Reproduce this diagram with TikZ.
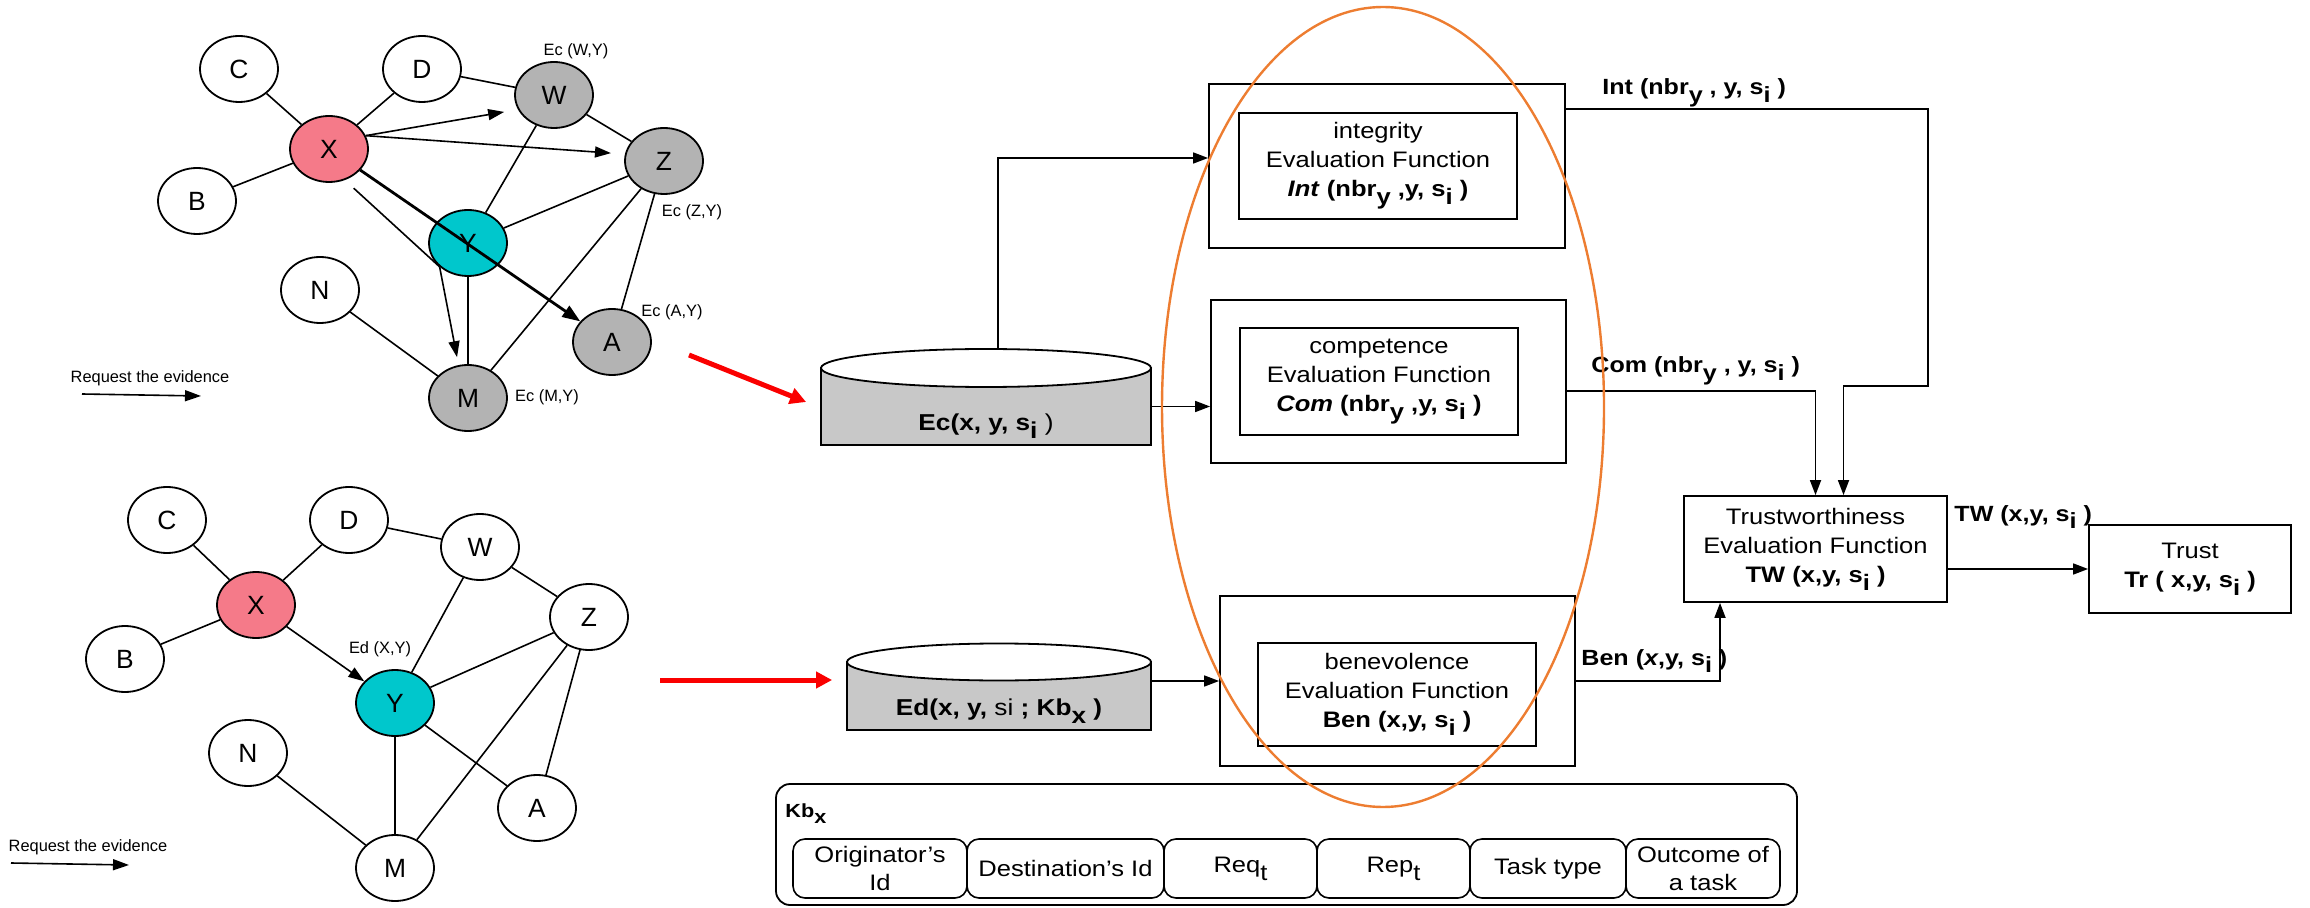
\documentclass[tikz,border=0pt]{standalone}
\usepackage{fontspec}
\setmainfont{Liberation Sans}[FakeStretch=1.14]
\newfontfamily\lblsans{Liberation Sans}
\usetikzlibrary{arrows.meta,calc,shapes.geometric}

\definecolor{xpink}{RGB}{245,122,137}
\definecolor{ycyan}{RGB}{0,199,204}
\definecolor{ngray}{RGB}{179,179,179}
\definecolor{dbgray}{RGB}{200,200,200}
\definecolor{ringorange}{RGB}{237,125,49}
\definecolor{hintred}{RGB}{250,0,0}

% lowered index, same size as the text around it
\newcommand{\dn}[1]{\raisebox{-0.35em}{#1}}

\begin{document}
\begin{tikzpicture}[x=0.5pt,y=-0.5pt,
  peer/.style={ellipse, draw, line width=0.9pt, fill=white, minimum width=39pt,
    minimum height=33pt, inner sep=0pt, font=\lblsans\fontsize{13.2}{15}\selectfont},
  link/.style={line width=0.8pt},
  req/.style={line width=0.8pt, -{Triangle[length=8pt,width=5.5pt]}},
  evtag/.style={font=\lblsans\fontsize{8.2}{9.5}\selectfont, inner sep=0pt},
  box/.style={draw, line width=0.9pt, rectangle, inner sep=0pt},
  evtext/.style={font=\fontsize{11.2}{14.5}\selectfont, align=center},
  flow/.style={line width=0.8pt, -{Triangle[length=7.5pt,width=5.5pt]}},
  outlbl/.style={font=\fontsize{11}{13}\selectfont\bfseries, inner sep=0pt, anchor=base west},
  bigred/.style={draw=hintred, line width=2.5pt, -{Triangle[length=8pt,width=8pt]}},
  cell/.style={draw, rounded corners=6pt, line width=0.8pt, minimum height=29.5pt,
    inner sep=0pt, align=center, font=\fontsize{11.2}{14}\selectfont},
]
\useasboundingbox (0,0) rectangle (2310,908);

% ---------- upper network: collecting evidence from the neighbours ----------
\node[peer] (tC) at (239,69) {C};
\node[peer] (tD) at (422,69) {D};
\node[peer, fill=ngray] (tW) at (554,95) {W};
\node[peer, fill=xpink] (tX) at (329,149) {X};
\node[peer, fill=ngray] (tZ) at (664,161) {Z};
\node[peer] (tB) at (197,201) {B};
\node[peer, fill=ycyan] (tY) at (468,243) {Y};
\node[peer] (tN) at (320,290) {N};
\node[peer, fill=ngray] (tA) at (612,342) {A};
\node[peer, fill=ngray] (tM) at (468,398) {M};

\foreach \a/\b in {tC/tX, tD/tX, tB/tX, tD/tW, tW/tZ, tW/tY, tZ/tY, tZ/tM, tZ/tA, tY/tM, tN/tM}
  \draw[link] (\a) -- (\b);

\draw[req, shorten >=7pt] (tX.20) -- (tW.202);
\draw[req, shorten >=7pt] (tX.20) -- (tZ.170);
\draw[line width=1.4pt, -{Triangle[length=9pt,width=6.5pt]}] (tX.-34) -- (tA.147);
\draw[link, shorten <=6pt] (tX.-63) -- (tY.220);
\draw[req, shorten >=4pt] (tY.220) -- (tM.106);

\node[evtag] (lWY) at (576,51) {Ec (W,Y)};
\node[evtag] (lZY) at (692,212) {Ec (Z,Y)};
\node[evtag] (lAY) at (672,312) {Ec (A,Y)};
\node[evtag] (lMY) at (547,397) {Ec (M,Y)};

\node[evtag] (rq1) at (150,378) {Request the evidence};
\coordinate (rq1a) at (82,394);
\coordinate (rq1b) at (201,396);
\draw[req] (rq1a) -- (rq1b);

% ---------- lower network: direct evidence between X and Y ----------
\node[peer] (bC) at (167,520) {C};
\node[peer] (bD) at (349,520) {D};
\node[peer] (bW) at (480,547) {W};
\node[peer, fill=xpink] (bX) at (256,605) {X};
\node[peer] (bZ) at (589,617) {Z};
\node[peer] (bB) at (125,659) {B};
\node[peer, fill=ycyan] (bY) at (395,703) {Y};
\node[peer] (bN) at (248,753) {N};
\node[peer] (bA) at (537,808) {A};
\node[peer] (bM) at (395,868) {M};

\foreach \a/\b in {bC/bX, bD/bX, bB/bX, bD/bW, bW/bZ, bW/bY, bZ/bY, bZ/bM, bZ/bA, bY/bM, bY/bA, bN/bM}
  \draw[link] (\a) -- (\b);

\draw[req] (bX) -- (bY);
\node[evtag] (lXY) at (380,649) {Ed (X,Y)};

\node[evtag] (rq2) at (88,847) {Request the evidence};
\coordinate (rq2a) at (11,863);
\coordinate (rq2b) at (129,865);
\draw[req] (rq2a) -- (rq2b);

% ---------- evidence stores ----------
\node[box, fill=dbgray, minimum width=165pt, minimum height=38.5pt] (ecbody) at (986,406.5) {};
\node[ellipse, draw, line width=0.9pt, fill=white, minimum width=165pt, minimum height=19pt, inner sep=0pt] (ectop) at (986,368) {};
\node[font=\fontsize{11.5}{13}\selectfont\bfseries, anchor=base, inner sep=0pt] (ectxt) at (986,430) {Ec(x, y, s\dn{i}\textmd{ )}};

\node[box, fill=dbgray, minimum width=152pt, minimum height=34pt] (edbody) at (999,696) {};
\node[ellipse, draw, line width=0.9pt, fill=white, minimum width=152pt, minimum height=18.5pt, inner sep=0pt] (edtop) at (999,662) {};
\node[font=\fontsize{11.5}{13}\selectfont\bfseries, anchor=base, inner sep=0pt] (edtxt) at (999,715) {Ed(x, y, \textmd{si} ; Kb\dn{x} )};

\coordinate (rt0) at (689,355);
\draw[bigred] (rt0) -- ($(ecbody.west)+(-14,-4.5)$);
\coordinate (rb0) at (660,680);
\draw[bigred] (rb0) -- ($(edbody.west)+(-14,-16)$);

% ---------- evaluation functions ----------
\node[box, minimum width=178pt, minimum height=82pt] (intO) at (1387,166) {};
\node[box, evtext, minimum width=139pt, minimum height=53pt] (intI) at (1378,166)
  {integrity\\Evaluation Function\\\textbf{\textit{Int} (nbr\dn{y} ,y, s\dn{i} )}};

\node[box, minimum width=177.5pt, minimum height=81.5pt] (comO) at (1388.5,381.5) {};
\node[box, evtext, minimum width=139pt, minimum height=53.5pt] (comI) at (1379,381.5)
  {competence\\Evaluation Function\\\textbf{\textit{Com} (nbr\dn{y} ,y, s\dn{i} )}};

\node[box, minimum width=177.5pt, minimum height=85pt] (benO) at (1397.5,681) {};
\node[box, evtext, minimum width=139pt, minimum height=51.5pt] (benI) at (1397,694.5)
  {benevolence\\Evaluation Function\\\textbf{Ben (x,y, s\dn{i} )}};

\node[box, evtext, minimum width=131.5pt, minimum height=53pt] (TW) at (1815.5,549)
  {Trustworthiness\\Evaluation Function\\\textbf{TW (x,y, s\dn{i} )}};
\node[box, evtext, minimum width=101pt, minimum height=44pt] (Tr) at (2190,569)
  {Trust\\\textbf{Tr ( x,y, s\dn{i} )}};

\draw[flow] ($(ectop.north)+(12,0)$) |- ($(intO.west)+(0,-8)$);
\draw[flow] (ecbody.east) -- (ecbody.east -| comO.west);
\draw[flow] ($(edbody.east)+(0,-15)$) -- ($(edbody.east -| benO.west)+(0,-15)$);

\coordinate (intjog) at (1928,386);
\draw[flow] ($(intO.north east)+(0,26)$) -| (intjog) -| ($(TW.north)+(28,0)$);
\draw[flow] ($(comO.east)+(0,9.5)$) -| (TW.north);
\draw[flow] (benO.east) -| ($(TW.south)+(-95.5,0)$);
\draw[flow] (TW.east |- Tr.west) -- (Tr.west);

\node[outlbl] (intL) at (1602,95) {Int (nbr\dn{y} , y, s\dn{i} )};
\node[outlbl] (comL) at (1591,373) {Com (nbr\dn{y} , y, s\dn{i} )};
\node[outlbl] (benL) at (1581,665) {Ben (\textit{x},y, s\dn{i} )};
\node[outlbl] (twL) at (1954,521) {TW (x,y, s\dn{i} )};

% ---------- knowledge base of X ----------
\node[draw, rounded corners=7pt, line width=0.9pt, minimum width=510.5pt, minimum height=60.5pt, inner sep=0pt] (kb) at (1286.5,844.5) {};
\node[outlbl, font=\fontsize{9.5}{11}\selectfont\bfseries] (kbL) at (785,817) {Kb\dn{x}};
\node[cell, minimum width=87pt] (c1) at (880,868.5) {Originator’s\\Id};
\node[cell, minimum width=98.5pt] (c2) at (1065.5,868.5) {Destination’s Id};
\node[cell, minimum width=76.5pt] (c3) at (1240.5,868.5) {Req\dn{t}};
\node[cell, minimum width=76.5pt] (c4) at (1393.5,868.5) {Rep\dn{t}};
\node[cell, minimum width=78pt] (c5) at (1548,868.5) {Task type};
\node[cell, minimum width=77pt] (c6) at (1703,868.5) {Outcome of\\a task};

% ---------- grouping of the three evaluation functions ----------
\node[ellipse, draw=ringorange, line width=1.2pt, minimum width=221pt, minimum height=400pt, inner sep=0pt] (ring) at (1383,407) {};

\end{tikzpicture}
\end{document}
